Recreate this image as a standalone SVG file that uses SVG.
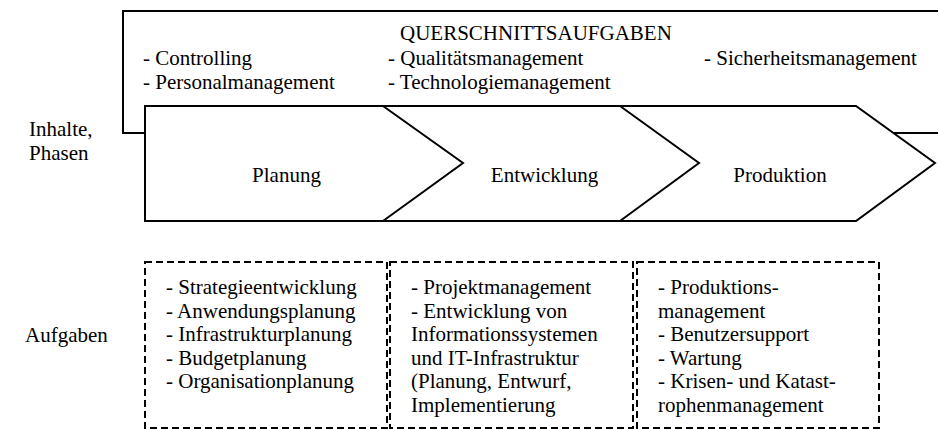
<svg xmlns="http://www.w3.org/2000/svg" width="938" height="430" viewBox="0 0 938 430">
  <style>
    text { font-family: "Liberation Serif", "Times New Roman", serif; font-size: 21px; fill: #000; }
    .c { text-anchor: middle; }
    .frame { fill: none; stroke: #000; stroke-width: 2; }
    .band { fill: #fff; stroke: #000; stroke-width: 2; stroke-linejoin: miter; }
    .div { fill: none; stroke: #000; stroke-width: 2; }
    .task { fill: none; stroke: #000; stroke-width: 2; stroke-dasharray: 7 4; }
  </style>
  <rect width="938" height="430" fill="#fff"/>

  <!-- cross-cutting tasks frame -->
  <g id="querschnitt">
    <rect class="frame" x="123" y="11" width="830" height="122"/>
    <text x="400" y="40">QUERSCHNITTSAUFGABEN</text>
    <text x="143" y="65">- Controlling</text>
    <text x="143" y="89">- Personalmanagement</text>
    <text x="388" y="65">- Qualitätsmanagement</text>
    <text x="388" y="89">- Technologiemanagement</text>
    <text x="704" y="65">- Sicherheitsmanagement</text>
  </g>

  <!-- row labels -->
  <g id="label-phasen">
    <text x="29" y="136">Inhalte,</text>
    <text x="29" y="160">Phasen</text>
  </g>
  <g id="label-aufgaben">
    <text x="25" y="342">Aufgaben</text>
  </g>

  <!-- phase band -->
  <g id="phasen">
    <polygon class="band" points="145,106 856,106 935,163 856,221 145,221"/>
  </g>
  <g id="connectors">
    <polyline class="div" points="383,106 463,163 383,221"/>
    <polyline class="div" points="620,106 699,163 620,221"/>
  </g>
  <g id="planung"><text class="c" x="286.5" y="182">Planung</text></g>
  <g id="entwicklung"><text class="c" x="544.5" y="182">Entwicklung</text></g>
  <g id="produktion"><text class="c" x="780" y="182">Produktion</text></g>

  <!-- task boxes -->
  <g id="aufgaben-planung">
    <rect class="task" x="145" y="262" width="242" height="166"/>
    <text x="166" y="294">- Strategieentwicklung</text>
    <text x="166" y="318">- Anwendungsplanung</text>
    <text x="166" y="341">- Infrastrukturplanung</text>
    <text x="166" y="365">- Budgetplanung</text>
    <text x="166" y="388">- Organisationplanung</text>
  </g>
  <g id="aufgaben-entwicklung">
    <rect class="task" x="390" y="262" width="243" height="166"/>
    <text x="411" y="294">- Projektmanagement</text>
    <text x="411" y="318">- Entwicklung von</text>
    <text x="411" y="341">Informationssystemen</text>
    <text x="411" y="365">und IT-Infrastruktur</text>
    <text x="411" y="388">(Planung, Entwurf,</text>
    <text x="411" y="412">Implementierung</text>
  </g>
  <g id="aufgaben-produktion">
    <rect class="task" x="637" y="262" width="242" height="166"/>
    <text x="658" y="294">- Produktions-</text>
    <text x="658" y="318">management</text>
    <text x="658" y="341">- Benutzersupport</text>
    <text x="658" y="365">- Wartung</text>
    <text x="658" y="388">- Krisen- und Katast-</text>
    <text x="658" y="412">rophenmanagement</text>
  </g>
</svg>
